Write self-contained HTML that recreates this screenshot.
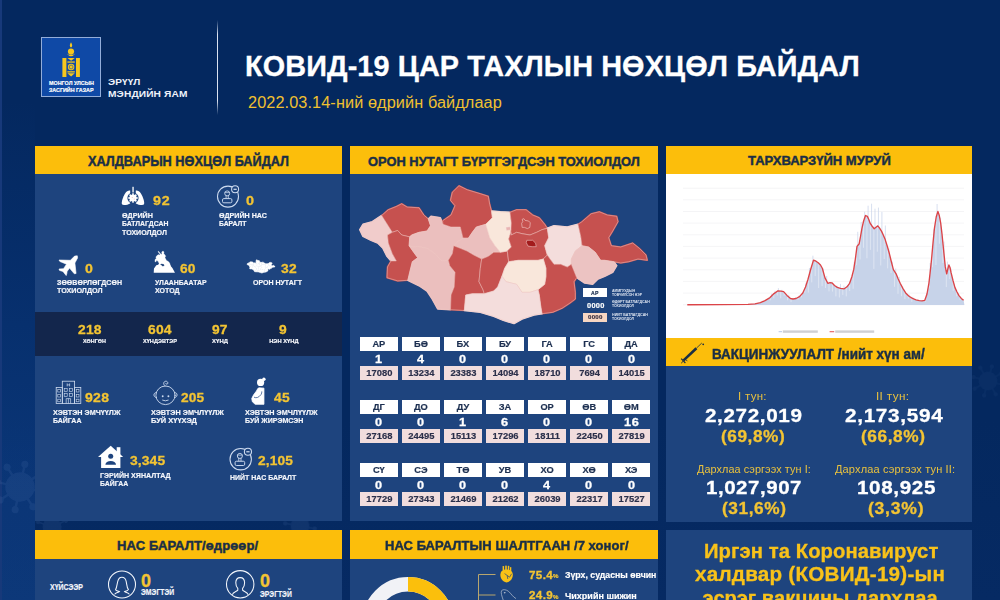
<!DOCTYPE html>
<html><head><meta charset="utf-8"><title>COVID-19</title>
<style>
html,body{margin:0;padding:0;}
body{width:1000px;height:600px;overflow:hidden;position:relative;background:linear-gradient(to bottom,#04285f 0%,#04285f 70%,#062a63 100%);font-family:"Liberation Sans",sans-serif;}
.b{position:absolute;}
.t{position:absolute;white-space:nowrap;line-height:1;font-weight:bold;transform-origin:left top;display:block;}
svg{position:absolute;left:0;top:0;}
</style></head><body>
<div class="b" style="left:0;top:100px;width:35px;height:500px;background:linear-gradient(to bottom,rgba(20,84,180,0) 0%,rgba(20,84,180,.16) 40%,rgba(24,86,176,.27) 70%,rgba(28,88,172,.30) 100%)"></div>
<div class="b" style="left:0;top:0;width:1.6px;height:600px;background:#17397a"></div>
<svg width="1000" height="600" viewBox="0 0 1000 600"><g fill="#8fb0e8" stroke="#8fb0e8" opacity="0.085"><g transform="translate(20 487) scale(1.55) rotate(12)" opacity="1"><circle r="9"/><g stroke-width="1.6" stroke-linecap="round"><line x1="0" y1="-9" x2="0" y2="-14"/><line x1="0" y1="9" x2="0" y2="14"/><line x1="-9" y1="0" x2="-14" y2="0"/><line x1="9" y1="0" x2="14" y2="0"/><line x1="6.4" y1="6.4" x2="10" y2="10"/><line x1="-6.4" y1="6.4" x2="-10" y2="10"/><line x1="6.4" y1="-6.4" x2="10" y2="-10"/><line x1="-6.4" y1="-6.4" x2="-10" y2="-10"/></g><circle cx="0" cy="-15" r="1.8"/><circle cx="0" cy="15" r="1.8"/><circle cx="-15" cy="0" r="1.8"/><circle cx="15" cy="0" r="1.8"/><circle cx="10.8" cy="10.8" r="1.8"/><circle cx="-10.8" cy="10.8" r="1.8"/><circle cx="10.8" cy="-10.8" r="1.8"/><circle cx="-10.8" cy="-10.8" r="1.8"/></g><g transform="translate(52 527) rotate(20)" opacity="1"><circle r="9"/><g stroke-width="1.6" stroke-linecap="round"><line x1="0" y1="-9" x2="0" y2="-14"/><line x1="0" y1="9" x2="0" y2="14"/><line x1="-9" y1="0" x2="-14" y2="0"/><line x1="9" y1="0" x2="14" y2="0"/><line x1="6.4" y1="6.4" x2="10" y2="10"/><line x1="-6.4" y1="6.4" x2="-10" y2="10"/><line x1="6.4" y1="-6.4" x2="10" y2="-10"/><line x1="-6.4" y1="-6.4" x2="-10" y2="-10"/></g><circle cx="0" cy="-15" r="1.8"/><circle cx="0" cy="15" r="1.8"/><circle cx="-15" cy="0" r="1.8"/><circle cx="15" cy="0" r="1.8"/><circle cx="10.8" cy="10.8" r="1.8"/><circle cx="-10.8" cy="10.8" r="1.8"/><circle cx="10.8" cy="-10.8" r="1.8"/><circle cx="-10.8" cy="-10.8" r="1.8"/></g><g transform="translate(988 381) rotate(15)" opacity="0.6"><circle r="9"/><g stroke-width="1.6" stroke-linecap="round"><line x1="0" y1="-9" x2="0" y2="-14"/><line x1="0" y1="9" x2="0" y2="14"/><line x1="-9" y1="0" x2="-14" y2="0"/><line x1="9" y1="0" x2="14" y2="0"/><line x1="6.4" y1="6.4" x2="10" y2="10"/><line x1="-6.4" y1="6.4" x2="-10" y2="10"/><line x1="6.4" y1="-6.4" x2="10" y2="-10"/><line x1="-6.4" y1="-6.4" x2="-10" y2="-10"/></g><circle cx="0" cy="-15" r="1.8"/><circle cx="0" cy="15" r="1.8"/><circle cx="-15" cy="0" r="1.8"/><circle cx="15" cy="0" r="1.8"/><circle cx="10.8" cy="10.8" r="1.8"/><circle cx="-10.8" cy="10.8" r="1.8"/><circle cx="10.8" cy="-10.8" r="1.8"/><circle cx="-10.8" cy="-10.8" r="1.8"/></g><g transform="translate(300 526) rotate(10)" opacity="1"><circle r="9"/><g stroke-width="1.6" stroke-linecap="round"><line x1="0" y1="-9" x2="0" y2="-14"/><line x1="0" y1="9" x2="0" y2="14"/><line x1="-9" y1="0" x2="-14" y2="0"/><line x1="9" y1="0" x2="14" y2="0"/><line x1="6.4" y1="6.4" x2="10" y2="10"/><line x1="-6.4" y1="6.4" x2="-10" y2="10"/><line x1="6.4" y1="-6.4" x2="10" y2="-10"/><line x1="-6.4" y1="-6.4" x2="-10" y2="-10"/></g><circle cx="0" cy="-15" r="1.8"/><circle cx="0" cy="15" r="1.8"/><circle cx="-15" cy="0" r="1.8"/><circle cx="15" cy="0" r="1.8"/><circle cx="10.8" cy="10.8" r="1.8"/><circle cx="-10.8" cy="10.8" r="1.8"/><circle cx="10.8" cy="-10.8" r="1.8"/><circle cx="-10.8" cy="-10.8" r="1.8"/></g></g></svg>
<div class="b" style="left:35.0px;top:146.2px;width:307.0px;height:28.2px;background:#fcbe0b;"></div>
<div class="b" style="left:35.0px;top:174.4px;width:307.0px;height:346.9px;background:#1e447e;"></div>
<div class="b" style="left:35.0px;top:312.0px;width:307.0px;height:44.3px;background:#13264c;"></div>
<div class="b" style="left:350.4px;top:146.2px;width:307.3px;height:28.2px;background:#fcbe0b;"></div>
<div class="b" style="left:350.4px;top:174.4px;width:307.3px;height:347.1px;background:#1e447e;"></div>
<div class="b" style="left:666.0px;top:146.2px;width:306.3px;height:28.2px;background:#fcbe0b;"></div>
<div class="b" style="left:666.0px;top:174.4px;width:306.3px;height:163.6px;background:#ffffff;"></div>
<div class="b" style="left:666.0px;top:338.0px;width:306.3px;height:28.3px;background:#fcbe0b;"></div>
<div class="b" style="left:666.0px;top:366.3px;width:306.3px;height:155.6px;background:#1e447e;"></div>
<div class="b" style="left:35.0px;top:530.0px;width:307.0px;height:28.8px;background:#fcbe0b;"></div>
<div class="b" style="left:35.0px;top:558.8px;width:307.0px;height:41.2px;background:#1e447e;"></div>
<div class="b" style="left:350.4px;top:530.0px;width:307.3px;height:28.8px;background:#fcbe0b;"></div>
<div class="b" style="left:350.4px;top:558.8px;width:307.3px;height:41.2px;background:#1e447e;"></div>
<div class="b" style="left:666.0px;top:529.5px;width:306.3px;height:70.5px;background:#1e447e;"></div>
<div class="b" style="left:217px;top:20px;width:1.4px;height:95px;background:linear-gradient(to bottom,rgba(255,255,255,0),rgba(230,236,248,.95) 15%,rgba(230,236,248,.95) 85%,rgba(255,255,255,0));"></div>
<div class="b" style="left:41.0px;top:37.0px;width:60.4px;height:60.0px;background:#0f49a6;border:1px solid #93add9;box-sizing:border-box;"></div>
<span class="t" style="left:48.5px;top:80.3px;font-size:5.99px;color:#fff;transform:scaleX(0.902);-webkit-text-stroke:0.18px #fff;">МОНГОЛ УЛСЫН</span>
<span class="t" style="left:48.5px;top:87.1px;font-size:5.99px;color:#fff;transform:scaleX(0.896);-webkit-text-stroke:0.18px #fff;">ЗАСГИЙН ГАЗАР</span>
<span class="t" style="left:107.6px;top:76.5px;font-size:9.98px;color:#eef2fa;letter-spacing:0.06px;transform:scaleX(1.009);">ЭРҮҮЛ</span>
<span class="t" style="left:107.6px;top:88.7px;font-size:9.98px;color:#eef2fa;letter-spacing:0.12px;transform:scaleX(1.019);">МЭНДИЙН ЯАМ</span>
<span class="t" style="left:245.4px;top:52.0px;font-size:28.63px;color:#fff;letter-spacing:0.11px;transform:scaleX(1.007);-webkit-text-stroke:0.3px #fff;">КОВИД-19 ЦАР ТАХЛЫН НӨХЦӨЛ БАЙДАЛ</span>
<span class="t" style="left:248.0px;top:94.2px;font-size:16.05px;color:#f0c030;font-weight:normal;letter-spacing:0.10px;transform:scaleX(1.014);">2022.03.14-ний өдрийн байдлаар</span>
<span class="t" style="left:87.5px;top:154.0px;font-size:14.12px;color:#1a2e46;transform:scaleX(0.903);-webkit-text-stroke:0.45px #1a2e46;">ХАЛДВАРЫН НӨХЦӨЛ БАЙДАЛ</span>
<span class="t" style="left:368.0px;top:154.6px;font-size:13.27px;color:#1a2e46;transform:scaleX(0.971);-webkit-text-stroke:0.45px #1a2e46;">ОРОН НУТАГТ БҮРТГЭГДСЭН ТОХИОЛДОЛ</span>
<span class="t" style="left:747.7px;top:154.3px;font-size:13.7px;color:#1a2e46;transform:scaleX(0.951);-webkit-text-stroke:0.45px #1a2e46;">ТАРХВАРЗҮЙН МУРУЙ</span>
<span class="t" style="left:711.7px;top:346.7px;font-size:14.12px;color:#1a2e46;transform:scaleX(0.955);-webkit-text-stroke:0.45px #1a2e46;">ВАКЦИНЖУУЛАЛТ /нийт хүн ам/</span>
<span class="t" style="left:117.4px;top:540.0px;font-size:12.8px;color:#1a2e46;letter-spacing:0.11px;transform:scaleX(1.017);-webkit-text-stroke:0.45px #1a2e46;">НАС БАРАЛТ/өдрөөр/</span>
<span class="t" style="left:384.5px;top:540.2px;font-size:12.9px;color:#1a2e46;letter-spacing:0.06px;transform:scaleX(1.009);-webkit-text-stroke:0.45px #1a2e46;">НАС БАРАЛТЫН ШАЛТГААН /7 хоног/</span>
<span class="t" style="left:153.0px;top:194.4px;font-size:13.58px;color:#f3c433;letter-spacing:0.64px;transform:scaleX(1.054);-webkit-text-stroke:0.3px #f3c433;">92</span>
<span class="t" style="left:121.6px;top:211.7px;font-size:7.49px;color:#f4f6fb;transform:scaleX(0.956);-webkit-text-stroke:0.18px #f4f6fb;">ӨДРИЙН</span>
<span class="t" style="left:121.6px;top:219.9px;font-size:7.49px;color:#f4f6fb;transform:scaleX(0.917);-webkit-text-stroke:0.18px #f4f6fb;">БАТЛАГДСАН</span>
<span class="t" style="left:121.6px;top:228.7px;font-size:7.49px;color:#f4f6fb;transform:scaleX(0.947);-webkit-text-stroke:0.18px #f4f6fb;">ТОХИОЛДОЛ</span>
<span class="t" style="left:246.0px;top:194.4px;font-size:13.58px;color:#f3c433;letter-spacing:0.36px;transform:scaleX(1.062);-webkit-text-stroke:0.3px #f3c433;">0</span>
<span class="t" style="left:219.0px;top:211.7px;font-size:7.49px;color:#f4f6fb;transform:scaleX(0.951);-webkit-text-stroke:0.18px #f4f6fb;">ӨДРИЙН НАС</span>
<span class="t" style="left:219.0px;top:219.9px;font-size:7.49px;color:#f4f6fb;transform:scaleX(0.911);-webkit-text-stroke:0.18px #f4f6fb;">БАРАЛТ</span>
<span class="t" style="left:84.5px;top:262.0px;font-size:13.58px;color:#f3c433;letter-spacing:0.24px;transform:scaleX(1.040);-webkit-text-stroke:0.3px #f3c433;">0</span>
<span class="t" style="left:57.0px;top:279.2px;font-size:7.49px;color:#f4f6fb;transform:scaleX(0.939);-webkit-text-stroke:0.18px #f4f6fb;">ЗӨӨВӨРЛӨГДСӨН</span>
<span class="t" style="left:57.0px;top:287.3px;font-size:7.49px;color:#f4f6fb;transform:scaleX(0.959);-webkit-text-stroke:0.18px #f4f6fb;">ТОХИОЛДОЛ</span>
<span class="t" style="left:180.0px;top:262.0px;font-size:13.58px;color:#f3c433;letter-spacing:0.18px;transform:scaleX(1.014);-webkit-text-stroke:0.3px #f3c433;">60</span>
<span class="t" style="left:155.0px;top:279.2px;font-size:7.49px;color:#f4f6fb;transform:scaleX(0.923);-webkit-text-stroke:0.18px #f4f6fb;">УЛААНБААТАР</span>
<span class="t" style="left:155.0px;top:287.3px;font-size:7.49px;color:#f4f6fb;transform:scaleX(0.943);-webkit-text-stroke:0.18px #f4f6fb;">ХОТОД</span>
<span class="t" style="left:281.0px;top:262.0px;font-size:13.58px;color:#f3c433;letter-spacing:0.22px;transform:scaleX(1.018);-webkit-text-stroke:0.3px #f3c433;">32</span>
<span class="t" style="left:252.5px;top:279.2px;font-size:7.49px;color:#f4f6fb;transform:scaleX(0.934);-webkit-text-stroke:0.18px #f4f6fb;">ОРОН НУТАГТ</span>
<span class="t" style="left:78.0px;top:322.9px;font-size:13.58px;color:#f3c433;letter-spacing:0.19px;transform:scaleX(1.020);-webkit-text-stroke:0.3px #f3c433;">218</span>
<span class="t" style="left:147.8px;top:322.9px;font-size:13.58px;color:#f3c433;letter-spacing:0.19px;transform:scaleX(1.020);-webkit-text-stroke:0.3px #f3c433;">604</span>
<span class="t" style="left:212.2px;top:322.9px;font-size:13.58px;color:#f3c433;letter-spacing:0.18px;transform:scaleX(1.014);-webkit-text-stroke:0.3px #f3c433;">97</span>
<span class="t" style="left:279.4px;top:322.9px;font-size:13.58px;color:#f3c433;letter-spacing:0.11px;transform:scaleX(1.018);-webkit-text-stroke:0.3px #f3c433;">9</span>
<span class="t" style="left:82.5px;top:339.0px;font-size:5.78px;color:#f4f6fb;transform:scaleX(0.940);-webkit-text-stroke:0.18px #f4f6fb;">ХӨНГӨН</span>
<span class="t" style="left:142.5px;top:339.0px;font-size:5.78px;color:#f4f6fb;transform:scaleX(0.973);-webkit-text-stroke:0.18px #f4f6fb;">ХҮНДЭВТЭР</span>
<span class="t" style="left:212.0px;top:339.0px;font-size:5.78px;color:#f4f6fb;letter-spacing:0.09px;transform:scaleX(1.023);-webkit-text-stroke:0.18px #f4f6fb;">ХҮНД</span>
<span class="t" style="left:269.2px;top:339.0px;font-size:5.78px;color:#f4f6fb;-webkit-text-stroke:0.18px #f4f6fb;">НЭН ХҮНД</span>
<span class="t" style="left:84.5px;top:391.4px;font-size:13.58px;color:#f3c433;letter-spacing:0.29px;transform:scaleX(1.033);-webkit-text-stroke:0.3px #f3c433;">928</span>
<span class="t" style="left:53.0px;top:408.7px;font-size:7.49px;color:#f4f6fb;transform:scaleX(0.966);-webkit-text-stroke:0.18px #f4f6fb;">ХЭВТЭН ЭМЧҮҮЛЖ</span>
<span class="t" style="left:53.0px;top:417.1px;font-size:7.49px;color:#f4f6fb;transform:scaleX(0.935);-webkit-text-stroke:0.18px #f4f6fb;">БАЙГАА</span>
<span class="t" style="left:181.0px;top:391.4px;font-size:13.58px;color:#f3c433;letter-spacing:0.08px;transform:scaleX(1.008);-webkit-text-stroke:0.3px #f3c433;">205</span>
<span class="t" style="left:151.0px;top:408.7px;font-size:7.49px;color:#f4f6fb;transform:scaleX(0.972);-webkit-text-stroke:0.18px #f4f6fb;">ХЭВТЭН ЭМЧЛҮҮЛЖ</span>
<span class="t" style="left:151.0px;top:417.1px;font-size:7.49px;color:#f4f6fb;-webkit-text-stroke:0.18px #f4f6fb;">БУЙ ХҮҮХЭД</span>
<span class="t" style="left:274.4px;top:391.4px;font-size:13.58px;color:#f3c433;letter-spacing:0.22px;transform:scaleX(1.018);-webkit-text-stroke:0.3px #f3c433;">45</span>
<span class="t" style="left:245.0px;top:408.7px;font-size:7.49px;color:#f4f6fb;transform:scaleX(0.967);-webkit-text-stroke:0.18px #f4f6fb;">ХЭВТЭН ЭМЧЛҮҮЛЖ</span>
<span class="t" style="left:245.0px;top:417.1px;font-size:7.49px;color:#f4f6fb;transform:scaleX(0.942);-webkit-text-stroke:0.18px #f4f6fb;">БУЙ ЖИРЭМСЭН</span>
<span class="t" style="left:129.5px;top:453.9px;font-size:13.58px;color:#f3c433;letter-spacing:0.12px;transform:scaleX(1.018);-webkit-text-stroke:0.3px #f3c433;">3,345</span>
<span class="t" style="left:100.4px;top:471.9px;font-size:7.49px;color:#f4f6fb;transform:scaleX(0.948);-webkit-text-stroke:0.18px #f4f6fb;">ГЭРИЙН ХЯНАЛТАД</span>
<span class="t" style="left:100.4px;top:480.1px;font-size:7.49px;color:#f4f6fb;transform:scaleX(0.925);-webkit-text-stroke:0.18px #f4f6fb;">БАЙГАА</span>
<span class="t" style="left:257.6px;top:453.9px;font-size:13.58px;color:#f3c433;letter-spacing:0.09px;transform:scaleX(1.013);-webkit-text-stroke:0.3px #f3c433;">2,105</span>
<span class="t" style="left:230.0px;top:474.0px;font-size:7.81px;color:#f4f6fb;transform:scaleX(0.895);-webkit-text-stroke:0.18px #f4f6fb;">НИЙТ НАС БАРАЛТ</span>
<span class="t" style="left:49.6px;top:584.0px;font-size:8.13px;color:#f4f6fb;transform:scaleX(0.856);-webkit-text-stroke:0.18px #f4f6fb;">ХҮЙСЭЭР</span>
<span class="t" style="left:141.4px;top:571.7px;font-size:18.6px;color:#f3c433;transform:scaleX(0.967);-webkit-text-stroke:0.3px #f3c433;">0</span>
<span class="t" style="left:140.9px;top:589.3px;font-size:8.13px;color:#f4f6fb;transform:scaleX(0.840);-webkit-text-stroke:0.18px #f4f6fb;">ЭМЭГТЭЙ</span>
<span class="t" style="left:260.0px;top:571.9px;font-size:18.6px;color:#f3c433;transform:scaleX(0.967);-webkit-text-stroke:0.3px #f3c433;">0</span>
<span class="t" style="left:260.2px;top:590.7px;font-size:8.13px;color:#f4f6fb;transform:scaleX(0.833);-webkit-text-stroke:0.18px #f4f6fb;">ЭРЭГТЭЙ</span>
<div class="b" style="left:360.0px;top:337.2px;width:37.7px;height:13.6px;background:#ffffff;"></div>
<span class="t" style="left:372.4px;top:340.1px;font-size:9.3px;color:#1c2f50;-webkit-text-stroke:0.18px #1c2f50;">АР</span>
<span class="t" style="left:375.1px;top:354.3px;font-size:11.8px;color:#ffffff;letter-spacing:0.37px;transform:scaleX(1.074);-webkit-text-stroke:0.3px #ffffff;">1</span>
<div class="b" style="left:360.0px;top:366.4px;width:37.7px;height:13.6px;background:#f1dddd;"></div>
<span class="t" style="left:366.3px;top:367.8px;font-size:9.4px;color:#2a2f4a;-webkit-text-stroke:0.18px #2a2f4a;">17080</span>
<div class="b" style="left:402.1px;top:337.2px;width:37.7px;height:13.6px;background:#ffffff;"></div>
<span class="t" style="left:414.0px;top:340.1px;font-size:9.3px;color:#1c2f50;-webkit-text-stroke:0.18px #1c2f50;">БӨ</span>
<span class="t" style="left:417.2px;top:354.3px;font-size:11.8px;color:#ffffff;letter-spacing:0.37px;transform:scaleX(1.074);-webkit-text-stroke:0.3px #ffffff;">4</span>
<div class="b" style="left:402.1px;top:366.4px;width:37.7px;height:13.6px;background:#f1dddd;"></div>
<span class="t" style="left:408.3px;top:367.8px;font-size:9.4px;color:#2a2f4a;-webkit-text-stroke:0.18px #2a2f4a;">13234</span>
<div class="b" style="left:444.1px;top:337.2px;width:37.7px;height:13.6px;background:#ffffff;"></div>
<span class="t" style="left:456.6px;top:340.1px;font-size:9.3px;color:#1c2f50;-webkit-text-stroke:0.18px #1c2f50;">БХ</span>
<span class="t" style="left:459.2px;top:354.3px;font-size:11.8px;color:#ffffff;letter-spacing:0.37px;transform:scaleX(1.074);-webkit-text-stroke:0.3px #ffffff;">0</span>
<div class="b" style="left:444.1px;top:366.4px;width:37.7px;height:13.6px;background:#f1dddd;"></div>
<span class="t" style="left:450.4px;top:367.8px;font-size:9.4px;color:#2a2f4a;-webkit-text-stroke:0.18px #2a2f4a;">23383</span>
<div class="b" style="left:486.2px;top:337.2px;width:37.7px;height:13.6px;background:#ffffff;"></div>
<span class="t" style="left:498.9px;top:340.1px;font-size:9.3px;color:#1c2f50;-webkit-text-stroke:0.18px #1c2f50;">БУ</span>
<span class="t" style="left:501.3px;top:354.3px;font-size:11.8px;color:#ffffff;letter-spacing:0.37px;transform:scaleX(1.074);-webkit-text-stroke:0.3px #ffffff;">0</span>
<div class="b" style="left:486.2px;top:366.4px;width:37.7px;height:13.6px;background:#f1dddd;"></div>
<span class="t" style="left:492.5px;top:367.8px;font-size:9.4px;color:#2a2f4a;-webkit-text-stroke:0.18px #2a2f4a;">14094</span>
<div class="b" style="left:528.2px;top:337.2px;width:37.7px;height:13.6px;background:#ffffff;"></div>
<span class="t" style="left:541.4px;top:340.1px;font-size:9.3px;color:#1c2f50;-webkit-text-stroke:0.18px #1c2f50;">ГА</span>
<span class="t" style="left:543.4px;top:354.3px;font-size:11.8px;color:#ffffff;letter-spacing:0.37px;transform:scaleX(1.074);-webkit-text-stroke:0.3px #ffffff;">0</span>
<div class="b" style="left:528.2px;top:366.4px;width:37.7px;height:13.6px;background:#f1dddd;"></div>
<span class="t" style="left:534.5px;top:367.8px;font-size:9.4px;color:#2a2f4a;-webkit-text-stroke:0.18px #2a2f4a;">18710</span>
<div class="b" style="left:570.3px;top:337.2px;width:37.7px;height:13.6px;background:#ffffff;"></div>
<span class="t" style="left:583.2px;top:340.1px;font-size:9.3px;color:#1c2f50;-webkit-text-stroke:0.18px #1c2f50;">ГС</span>
<span class="t" style="left:585.4px;top:354.3px;font-size:11.8px;color:#ffffff;letter-spacing:0.37px;transform:scaleX(1.074);-webkit-text-stroke:0.3px #ffffff;">0</span>
<div class="b" style="left:570.3px;top:366.4px;width:37.7px;height:13.6px;background:#f1dddd;"></div>
<span class="t" style="left:579.2px;top:367.8px;font-size:9.4px;color:#2a2f4a;-webkit-text-stroke:0.18px #2a2f4a;">7694</span>
<div class="b" style="left:612.4px;top:337.2px;width:37.7px;height:13.6px;background:#ffffff;"></div>
<span class="t" style="left:624.5px;top:340.1px;font-size:9.3px;color:#1c2f50;-webkit-text-stroke:0.18px #1c2f50;">ДА</span>
<span class="t" style="left:627.5px;top:354.3px;font-size:11.8px;color:#ffffff;letter-spacing:0.37px;transform:scaleX(1.074);-webkit-text-stroke:0.3px #ffffff;">0</span>
<div class="b" style="left:612.4px;top:366.4px;width:37.7px;height:13.6px;background:#f1dddd;"></div>
<span class="t" style="left:618.6px;top:367.8px;font-size:9.4px;color:#2a2f4a;-webkit-text-stroke:0.18px #2a2f4a;">14015</span>
<div class="b" style="left:360.0px;top:400.0px;width:37.7px;height:13.6px;background:#ffffff;"></div>
<span class="t" style="left:372.9px;top:402.9px;font-size:9.3px;color:#1c2f50;-webkit-text-stroke:0.18px #1c2f50;">ДГ</span>
<span class="t" style="left:375.1px;top:417.1px;font-size:11.8px;color:#ffffff;letter-spacing:0.37px;transform:scaleX(1.074);-webkit-text-stroke:0.3px #ffffff;">0</span>
<div class="b" style="left:360.0px;top:429.2px;width:37.7px;height:13.6px;background:#f1dddd;"></div>
<span class="t" style="left:366.3px;top:430.6px;font-size:9.4px;color:#2a2f4a;-webkit-text-stroke:0.18px #2a2f4a;">27168</span>
<div class="b" style="left:402.1px;top:400.0px;width:37.7px;height:13.6px;background:#ffffff;"></div>
<span class="t" style="left:414.0px;top:402.9px;font-size:9.3px;color:#1c2f50;-webkit-text-stroke:0.18px #1c2f50;">ДО</span>
<span class="t" style="left:417.2px;top:417.1px;font-size:11.8px;color:#ffffff;letter-spacing:0.37px;transform:scaleX(1.074);-webkit-text-stroke:0.3px #ffffff;">0</span>
<div class="b" style="left:402.1px;top:429.2px;width:37.7px;height:13.6px;background:#f1dddd;"></div>
<span class="t" style="left:408.3px;top:430.6px;font-size:9.4px;color:#2a2f4a;-webkit-text-stroke:0.18px #2a2f4a;">24495</span>
<div class="b" style="left:444.1px;top:400.0px;width:37.7px;height:13.6px;background:#ffffff;"></div>
<span class="t" style="left:456.7px;top:402.9px;font-size:9.3px;color:#1c2f50;-webkit-text-stroke:0.18px #1c2f50;">ДУ</span>
<span class="t" style="left:459.2px;top:417.1px;font-size:11.8px;color:#ffffff;letter-spacing:0.37px;transform:scaleX(1.074);-webkit-text-stroke:0.3px #ffffff;">1</span>
<div class="b" style="left:444.1px;top:429.2px;width:37.7px;height:13.6px;background:#f1dddd;"></div>
<span class="t" style="left:450.7px;top:430.6px;font-size:9.4px;color:#2a2f4a;-webkit-text-stroke:0.18px #2a2f4a;">15113</span>
<div class="b" style="left:486.2px;top:400.0px;width:37.7px;height:13.6px;background:#ffffff;"></div>
<span class="t" style="left:498.8px;top:402.9px;font-size:9.3px;color:#1c2f50;-webkit-text-stroke:0.18px #1c2f50;">ЗА</span>
<span class="t" style="left:501.3px;top:417.1px;font-size:11.8px;color:#ffffff;letter-spacing:0.37px;transform:scaleX(1.074);-webkit-text-stroke:0.3px #ffffff;">6</span>
<div class="b" style="left:486.2px;top:429.2px;width:37.7px;height:13.6px;background:#f1dddd;"></div>
<span class="t" style="left:492.5px;top:430.6px;font-size:9.4px;color:#2a2f4a;-webkit-text-stroke:0.18px #2a2f4a;">17296</span>
<div class="b" style="left:528.2px;top:400.0px;width:37.7px;height:13.6px;background:#ffffff;"></div>
<span class="t" style="left:540.4px;top:402.9px;font-size:9.3px;color:#1c2f50;-webkit-text-stroke:0.18px #1c2f50;">ОР</span>
<span class="t" style="left:543.4px;top:417.1px;font-size:11.8px;color:#ffffff;letter-spacing:0.37px;transform:scaleX(1.074);-webkit-text-stroke:0.3px #ffffff;">0</span>
<div class="b" style="left:528.2px;top:429.2px;width:37.7px;height:13.6px;background:#f1dddd;"></div>
<span class="t" style="left:535.0px;top:430.6px;font-size:9.4px;color:#2a2f4a;-webkit-text-stroke:0.18px #2a2f4a;">18111</span>
<div class="b" style="left:570.3px;top:400.0px;width:37.7px;height:13.6px;background:#ffffff;"></div>
<span class="t" style="left:582.2px;top:402.9px;font-size:9.3px;color:#1c2f50;-webkit-text-stroke:0.18px #1c2f50;">ӨВ</span>
<span class="t" style="left:585.4px;top:417.1px;font-size:11.8px;color:#ffffff;letter-spacing:0.37px;transform:scaleX(1.074);-webkit-text-stroke:0.3px #ffffff;">0</span>
<div class="b" style="left:570.3px;top:429.2px;width:37.7px;height:13.6px;background:#f1dddd;"></div>
<span class="t" style="left:576.6px;top:430.6px;font-size:9.4px;color:#2a2f4a;-webkit-text-stroke:0.18px #2a2f4a;">22450</span>
<div class="b" style="left:612.4px;top:400.0px;width:37.7px;height:13.6px;background:#ffffff;"></div>
<span class="t" style="left:623.7px;top:402.9px;font-size:9.3px;color:#1c2f50;-webkit-text-stroke:0.18px #1c2f50;">ӨМ</span>
<span class="t" style="left:623.8px;top:417.1px;font-size:11.8px;color:#ffffff;letter-spacing:0.74px;transform:scaleX(1.074);-webkit-text-stroke:0.3px #ffffff;">16</span>
<div class="b" style="left:612.4px;top:429.2px;width:37.7px;height:13.6px;background:#f1dddd;"></div>
<span class="t" style="left:618.6px;top:430.6px;font-size:9.4px;color:#2a2f4a;-webkit-text-stroke:0.18px #2a2f4a;">27819</span>
<div class="b" style="left:360.0px;top:463.0px;width:37.7px;height:13.6px;background:#ffffff;"></div>
<span class="t" style="left:372.9px;top:465.9px;font-size:9.3px;color:#1c2f50;-webkit-text-stroke:0.18px #1c2f50;">СҮ</span>
<span class="t" style="left:375.1px;top:480.1px;font-size:11.8px;color:#ffffff;letter-spacing:0.37px;transform:scaleX(1.074);-webkit-text-stroke:0.3px #ffffff;">0</span>
<div class="b" style="left:360.0px;top:492.2px;width:37.7px;height:13.6px;background:#f1dddd;"></div>
<span class="t" style="left:366.3px;top:493.6px;font-size:9.4px;color:#2a2f4a;-webkit-text-stroke:0.18px #2a2f4a;">17729</span>
<div class="b" style="left:402.1px;top:463.0px;width:37.7px;height:13.6px;background:#ffffff;"></div>
<span class="t" style="left:414.3px;top:465.9px;font-size:9.3px;color:#1c2f50;-webkit-text-stroke:0.18px #1c2f50;">СЭ</span>
<span class="t" style="left:417.2px;top:480.1px;font-size:11.8px;color:#ffffff;letter-spacing:0.37px;transform:scaleX(1.074);-webkit-text-stroke:0.3px #ffffff;">0</span>
<div class="b" style="left:402.1px;top:492.2px;width:37.7px;height:13.6px;background:#f1dddd;"></div>
<span class="t" style="left:408.3px;top:493.6px;font-size:9.4px;color:#2a2f4a;-webkit-text-stroke:0.18px #2a2f4a;">27343</span>
<div class="b" style="left:444.1px;top:463.0px;width:37.7px;height:13.6px;background:#ffffff;"></div>
<span class="t" style="left:456.5px;top:465.9px;font-size:9.3px;color:#1c2f50;-webkit-text-stroke:0.18px #1c2f50;">ТӨ</span>
<span class="t" style="left:459.2px;top:480.1px;font-size:11.8px;color:#ffffff;letter-spacing:0.37px;transform:scaleX(1.074);-webkit-text-stroke:0.3px #ffffff;">0</span>
<div class="b" style="left:444.1px;top:492.2px;width:37.7px;height:13.6px;background:#f1dddd;"></div>
<span class="t" style="left:450.4px;top:493.6px;font-size:9.4px;color:#2a2f4a;-webkit-text-stroke:0.18px #2a2f4a;">21469</span>
<div class="b" style="left:486.2px;top:463.0px;width:37.7px;height:13.6px;background:#ffffff;"></div>
<span class="t" style="left:498.8px;top:465.9px;font-size:9.3px;color:#1c2f50;-webkit-text-stroke:0.18px #1c2f50;">УВ</span>
<span class="t" style="left:501.3px;top:480.1px;font-size:11.8px;color:#ffffff;letter-spacing:0.37px;transform:scaleX(1.074);-webkit-text-stroke:0.3px #ffffff;">0</span>
<div class="b" style="left:486.2px;top:492.2px;width:37.7px;height:13.6px;background:#f1dddd;"></div>
<span class="t" style="left:492.5px;top:493.6px;font-size:9.4px;color:#2a2f4a;-webkit-text-stroke:0.18px #2a2f4a;">21262</span>
<div class="b" style="left:528.2px;top:463.0px;width:37.7px;height:13.6px;background:#ffffff;"></div>
<span class="t" style="left:540.5px;top:465.9px;font-size:9.3px;color:#1c2f50;-webkit-text-stroke:0.18px #1c2f50;">ХО</span>
<span class="t" style="left:543.4px;top:480.1px;font-size:11.8px;color:#ffffff;letter-spacing:0.37px;transform:scaleX(1.074);-webkit-text-stroke:0.3px #ffffff;">4</span>
<div class="b" style="left:528.2px;top:492.2px;width:37.7px;height:13.6px;background:#f1dddd;"></div>
<span class="t" style="left:534.5px;top:493.6px;font-size:9.4px;color:#2a2f4a;-webkit-text-stroke:0.18px #2a2f4a;">26039</span>
<div class="b" style="left:570.3px;top:463.0px;width:37.7px;height:13.6px;background:#ffffff;"></div>
<span class="t" style="left:582.4px;top:465.9px;font-size:9.3px;color:#1c2f50;-webkit-text-stroke:0.18px #1c2f50;">ХӨ</span>
<span class="t" style="left:585.4px;top:480.1px;font-size:11.8px;color:#ffffff;letter-spacing:0.37px;transform:scaleX(1.074);-webkit-text-stroke:0.3px #ffffff;">0</span>
<div class="b" style="left:570.3px;top:492.2px;width:37.7px;height:13.6px;background:#f1dddd;"></div>
<span class="t" style="left:576.6px;top:493.6px;font-size:9.4px;color:#2a2f4a;-webkit-text-stroke:0.18px #2a2f4a;">22317</span>
<div class="b" style="left:612.4px;top:463.0px;width:37.7px;height:13.6px;background:#ffffff;"></div>
<span class="t" style="left:624.9px;top:465.9px;font-size:9.3px;color:#1c2f50;-webkit-text-stroke:0.18px #1c2f50;">ХЭ</span>
<span class="t" style="left:627.5px;top:480.1px;font-size:11.8px;color:#ffffff;letter-spacing:0.37px;transform:scaleX(1.074);-webkit-text-stroke:0.3px #ffffff;">0</span>
<div class="b" style="left:612.4px;top:492.2px;width:37.7px;height:13.6px;background:#f1dddd;"></div>
<span class="t" style="left:618.6px;top:493.6px;font-size:9.4px;color:#2a2f4a;-webkit-text-stroke:0.18px #2a2f4a;">17527</span>
<div class="b" style="left:582.8px;top:288.1px;width:24.1px;height:8.8px;background:#ffffff;"></div>
<span class="t" style="left:591.1px;top:290.6px;font-size:5.03px;color:#1c2f50;letter-spacing:0.18px;transform:scaleX(1.032);-webkit-text-stroke:0.18px #1c2f50;">АР</span>
<span class="t" style="left:586.9px;top:301.9px;font-size:7.06px;color:#ffffff;letter-spacing:0.23px;transform:scaleX(1.056);-webkit-text-stroke:0.18px #ffffff;">0000</span>
<div class="b" style="left:582.8px;top:312.9px;width:24.1px;height:9.0px;background:#f7d6c2;"></div>
<span class="t" style="left:588.0px;top:314.8px;font-size:5.67px;color:#3a3040;letter-spacing:0.25px;transform:scaleX(1.078);-webkit-text-stroke:0.18px #3a3040;">0000</span>
<span class="t" style="left:611.9px;top:288.6px;font-size:3.96px;color:#dfe6f2;transform:scaleX(0.901);">АЙМГУУДЫН</span>
<span class="t" style="left:611.9px;top:293.1px;font-size:3.96px;color:#dfe6f2;transform:scaleX(0.866);">ТОВЧИЛСОН НЭР</span>
<span class="t" style="left:611.9px;top:299.6px;font-size:3.96px;color:#dfe6f2;transform:scaleX(0.903);">ӨДӨРТ БАТЛАГДСАН</span>
<span class="t" style="left:611.9px;top:303.7px;font-size:3.96px;color:#dfe6f2;transform:scaleX(0.877);">ТОХИОЛДОЛ</span>
<span class="t" style="left:611.9px;top:312.7px;font-size:3.96px;color:#dfe6f2;transform:scaleX(0.927);">НИЙТ БАТЛАГДСАН</span>
<span class="t" style="left:611.9px;top:316.7px;font-size:3.96px;color:#dfe6f2;transform:scaleX(0.877);">ТОХИОЛДОЛ</span>
<span class="t" style="left:738.4px;top:391.4px;font-size:10.7px;color:#eac23e;font-weight:normal;letter-spacing:0.28px;transform:scaleX(1.074);">I тун:</span>
<span class="t" style="left:704.5px;top:406.2px;font-size:19.26px;color:#fff;letter-spacing:0.59px;transform:scaleX(1.073);-webkit-text-stroke:0.3px #fff;">2,272,019</span>
<span class="t" style="left:720.8px;top:428.4px;font-size:16.05px;color:#f3c433;letter-spacing:0.53px;transform:scaleX(1.074);-webkit-text-stroke:0.3px #f3c433;">(69,8%)</span>
<span class="t" style="left:876.3px;top:391.4px;font-size:10.7px;color:#eac23e;font-weight:normal;letter-spacing:0.33px;transform:scaleX(1.094);">II тун:</span>
<span class="t" style="left:844.6px;top:406.2px;font-size:19.26px;color:#fff;letter-spacing:0.63px;transform:scaleX(1.077);-webkit-text-stroke:0.3px #fff;">2,173,594</span>
<span class="t" style="left:860.6px;top:428.4px;font-size:16.05px;color:#f3c433;letter-spacing:0.55px;transform:scaleX(1.077);-webkit-text-stroke:0.3px #f3c433;">(66,8%)</span>
<span class="t" style="left:696.8px;top:463.7px;font-size:10.7px;color:#eac23e;font-weight:normal;letter-spacing:0.07px;transform:scaleX(1.016);">Дархлаа сэргээх тун I:</span>
<span class="t" style="left:706.0px;top:477.5px;font-size:19.26px;color:#fff;letter-spacing:0.52px;transform:scaleX(1.063);-webkit-text-stroke:0.3px #fff;">1,027,907</span>
<span class="t" style="left:722.0px;top:499.6px;font-size:16.05px;color:#f3c433;letter-spacing:0.54px;transform:scaleX(1.076);-webkit-text-stroke:0.3px #f3c433;">(31,6%)</span>
<span class="t" style="left:835.4px;top:463.7px;font-size:10.7px;color:#eac23e;font-weight:normal;letter-spacing:0.13px;transform:scaleX(1.032);">Дархлаа сэргээх тун II:</span>
<span class="t" style="left:857.0px;top:477.5px;font-size:19.26px;color:#fff;letter-spacing:0.62px;transform:scaleX(1.070);-webkit-text-stroke:0.3px #fff;">108,925</span>
<span class="t" style="left:867.7px;top:499.6px;font-size:16.05px;color:#f3c433;letter-spacing:0.68px;transform:scaleX(1.096);-webkit-text-stroke:0.3px #f3c433;">(3,3%)</span>
<span class="t" style="left:703.5px;top:540.8px;font-size:20.12px;color:#f8c21a;letter-spacing:0.06px;transform:scaleX(1.007);-webkit-text-stroke:0.3px #f8c21a;">Иргэн та Коронавируст</span>
<span class="t" style="left:695.0px;top:564.3px;font-size:20.12px;color:#f8c21a;letter-spacing:0.24px;transform:scaleX(1.026);-webkit-text-stroke:0.3px #f8c21a;">халдвар (КОВИД-19)-ын</span>
<span class="t" style="left:702.5px;top:587.8px;font-size:20.12px;color:#f8c21a;letter-spacing:0.04px;-webkit-text-stroke:0.3px #f8c21a;">эсрэг вакцины дархлаа</span>
<span class="t" style="left:528.8px;top:569.6px;font-size:10.9px;color:#f3c433;letter-spacing:0.36px;transform:scaleX(1.067);-webkit-text-stroke:0.3px #f3c433;">75.4</span>
<span class="t" style="left:553.0px;top:574.3px;font-size:5.35px;color:#f3c433;letter-spacing:0.49px;transform:scaleX(1.144);-webkit-text-stroke:0.18px #f3c433;">%</span>
<span class="t" style="left:564.8px;top:571.4px;font-size:9.2px;color:#fff;transform:scaleX(0.952);-webkit-text-stroke:0.18px #fff;">Зүрх, судасны өвчин</span>
<span class="t" style="left:528.8px;top:589.8px;font-size:10.9px;color:#f3c433;letter-spacing:0.36px;transform:scaleX(1.067);-webkit-text-stroke:0.3px #f3c433;">24.9</span>
<span class="t" style="left:553.0px;top:594.5px;font-size:5.35px;color:#f3c433;letter-spacing:0.49px;transform:scaleX(1.144);-webkit-text-stroke:0.18px #f3c433;">%</span>
<span class="t" style="left:564.8px;top:591.8px;font-size:9.2px;color:#fff;transform:scaleX(0.980);-webkit-text-stroke:0.18px #fff;">Чихрийн шижин</span>
<svg width="1000" height="600" viewBox="0 0 1000 600">
<polygon points="359.8,229.7 363.0,224.3 372.3,221.7 381.7,215.5 392.3,232.3 387.5,235.0 388.3,243.0 392.3,253.7 396.3,260.9 391.0,260.9 387.0,256.3 383.0,248.3 377.7,243.0 371.0,240.3 363.0,236.3" fill="#f1cccb" stroke="#f1cccb" stroke-width="1.6" stroke-linejoin="round" />
<polygon points="381.7,215.5 388.3,209.7 396.3,206.5 401.7,203.8 407.0,207.0 419.0,207.8 423.8,215.0 428.3,219.0 430.5,225.7 427.0,231.0 419.0,232.3 411.5,235.0 409.7,236.9 401.7,235.0 397.7,230.5 392.3,232.3" fill="#c6514f" stroke="#c6514f" stroke-width="1.6" stroke-linejoin="round" />
<polygon points="387.5,235.0 392.3,232.3 397.7,230.5 401.7,235.0 409.7,236.9 409.1,245.7 413.7,252.3 417.7,257.7 412.3,261.7 409.7,272.3 407.8,280.3 397.7,280.9 387.0,277.7 387.5,267.0 391.0,260.9 396.3,260.9 392.3,253.7 388.3,243.0" fill="#c6514f" stroke="#c6514f" stroke-width="1.6" stroke-linejoin="round" />
<polygon points="428.3,219.0 431.0,216.3 440.3,217.7 443.0,224.3 451.0,227.0 460.3,227.0 463.0,238.2 457.7,241.7 453.7,245.7 452.3,253.7 448.3,260.3 441.7,260.9 435.0,253.7 427.0,248.3 417.7,246.5 412.3,247.0 409.1,245.7 409.7,236.9 411.5,235.0 419.0,232.3 427.0,231.0 430.5,225.7" fill="#ebbfbe" stroke="#ebbfbe" stroke-width="1.6" stroke-linejoin="round" />
<polygon points="409.1,245.7 412.3,247.0 417.7,246.5 427.0,248.3 435.0,253.7 441.7,260.9 448.3,260.3 449.7,265.7 455.0,272.3 454.2,287.0 451.0,295.0 450.5,309.7 437.7,308.9 432.3,299.0 427.0,291.0 419.0,285.7 407.8,280.3 409.7,272.3 412.3,261.7 417.7,257.7 413.7,252.3" fill="#ebbfbe" stroke="#ebbfbe" stroke-width="1.6" stroke-linejoin="round" />
<polygon points="459.0,185.7 467.0,189.7 480.3,193.7 488.3,196.3 489.7,204.3 491.5,211.0 492.3,217.7 485.7,224.3 476.3,227.0 472.3,232.3 468.3,238.2 463.0,238.2 460.3,227.0 451.0,227.0 443.0,224.3 442.5,220.9 451.0,215.0 455.0,205.7 450.5,200.3 452.3,192.3" fill="#c6514f" stroke="#c6514f" stroke-width="1.6" stroke-linejoin="round" />
<polygon points="476.3,227.0 485.7,224.3 489.7,237.7 495.0,245.7 500.3,252.3 493.7,252.3 488.3,256.3 481.7,259.0 473.7,255.0 467.0,251.0 460.3,248.3 453.7,245.7 457.7,241.7 463.0,238.2 468.3,238.2 472.3,232.3" fill="#ebbfbe" stroke="#ebbfbe" stroke-width="1.6" stroke-linejoin="round" />
<polygon points="453.7,245.7 460.3,248.3 467.0,251.0 473.7,255.0 481.7,259.0 480.3,268.3 479.0,281.7 483.0,289.7 484.3,293.7 472.3,293.7 465.7,295.0 464.3,310.5 450.5,309.7 451.0,295.0 454.2,287.0 455.0,272.3 449.7,265.7 448.3,260.3 452.3,253.7" fill="#c6514f" stroke="#c6514f" stroke-width="1.6" stroke-linejoin="round" />
<polygon points="481.7,259.0 488.3,256.3 493.7,252.3 500.3,252.3 507.3,251.0 508.6,261.7 504.6,268.3 501.9,276.3 497.7,287.0 493.7,291.0 484.3,293.7 483.0,289.7 479.0,281.7 480.3,268.3" fill="#c6514f" stroke="#c6514f" stroke-width="1.6" stroke-linejoin="round" />
<polygon points="485.7,224.3 492.3,217.7 491.5,211.0 500.3,211.8 509.9,212.3 511.3,223.0 510.7,232.3 508.6,239.0 511.3,247.0 507.3,251.0 500.3,252.3 495.0,245.7 489.7,237.7" fill="#f9e7db" stroke="#f9e7db" stroke-width="1.6" stroke-linejoin="round" />
<polygon points="510.0,212.3 516.7,209.7 526.0,209.7 532.7,215.0 539.3,217.7 544.7,224.3 547.3,228.3 542.0,229.7 536.7,232.3 530.0,235.0 522.0,233.7 516.7,232.3 511.3,235.0 510.8,232.3 511.3,223.0" fill="#c6514f" stroke="#c6514f" stroke-width="1.6" stroke-linejoin="round" />
<polygon points="511.3,235.0 516.7,232.3 522.0,233.7 530.0,235.0 536.7,232.3 542.0,229.7 547.3,228.3 548.7,237.7 544.7,245.7 547.3,255.0 543.3,259.0 538.0,260.3 530.0,260.3 518.0,260.3 508.7,261.7 507.3,251.0 511.3,247.0 508.7,239.0 510.8,232.3" fill="#c6514f" stroke="#c6514f" stroke-width="1.6" stroke-linejoin="round" />
<polygon points="547.3,228.3 554.0,225.7 567.3,227.0 578.0,224.3 580.7,236.3 582.0,245.7 575.3,251.0 571.3,259.0 571.3,264.3 567.3,267.0 560.7,264.3 554.0,264.3 550.0,259.0 547.3,255.0 544.7,245.7 548.7,237.7" fill="#f4dddc" stroke="#f4dddc" stroke-width="1.6" stroke-linejoin="round" />
<polygon points="578.0,224.3 582.0,221.7 591.3,213.7 599.3,211.8 607.3,215.0 616.7,216.3 618.0,221.7 612.7,231.0 608.7,237.7 611.3,245.7 620.7,247.0 632.7,243.0 639.3,248.3 646.0,255.0 647.3,260.3 638.0,259.0 628.7,261.7 620.7,263.0 614.0,261.7 604.7,260.3 600.7,260.3 595.3,252.3 588.7,247.0 582.0,245.7 580.7,236.3" fill="#c6514f" stroke="#c6514f" stroke-width="1.6" stroke-linejoin="round" />
<polygon points="582.0,245.7 588.7,247.0 595.3,252.3 600.7,260.3 604.7,260.3 614.0,261.7 616.7,265.7 612.7,272.3 604.7,276.3 598.0,279.0 592.7,284.3 584.7,283.0 576.7,277.7 574.0,271.0 571.3,264.3 571.3,259.0 575.3,251.0" fill="#ecc3c2" stroke="#ecc3c2" stroke-width="1.6" stroke-linejoin="round" />
<polygon points="547.3,255.0 550.0,259.0 554.0,264.3 560.7,264.3 567.3,267.0 571.3,264.3 574.0,271.0 576.7,277.7 574.0,281.7 575.3,292.3 575.3,299.0 570.0,303.0 562.0,308.3 552.7,312.3 542.0,313.7 540.7,305.7 539.3,295.0 538.0,289.7 544.7,284.3 546.0,276.3 546.0,268.3 543.3,259.0" fill="#c6514f" stroke="#c6514f" stroke-width="1.6" stroke-linejoin="round" />
<polygon points="508.7,261.7 518.0,260.3 530.0,260.3 538.0,260.3 543.3,259.0 546.0,268.3 546.0,276.3 544.7,284.3 538.0,289.7 530.0,292.3 522.0,292.3 516.7,284.3 506.0,281.7 502.0,276.3 504.7,268.3" fill="#f9e7db" stroke="#f9e7db" stroke-width="1.6" stroke-linejoin="round" />
<polygon points="502.0,276.3 506.0,281.7 516.7,284.3 522.0,292.3 530.0,292.3 538.0,289.7 539.3,295.0 540.7,305.7 542.0,313.7 534.0,315.0 522.0,319.0 514.0,323.5 503.3,320.3 493.7,316.3 480.3,312.3 464.3,310.5 465.7,295.0 472.3,293.7 484.3,293.7 493.7,291.0 497.7,287.0 501.9,276.3" fill="#f4dddc" stroke="#f4dddc" stroke-width="1.6" stroke-linejoin="round" />
<polygon points="359.8,229.7 363.0,224.3 372.3,221.7 381.7,215.5 392.3,232.3 387.5,235.0 388.3,243.0 392.3,253.7 396.3,260.9 391.0,260.9 387.0,256.3 383.0,248.3 377.7,243.0 371.0,240.3 363.0,236.3" fill="#f1cccb" stroke="#efc6c3" stroke-width="0.5" stroke-linejoin="round" />
<polygon points="381.7,215.5 388.3,209.7 396.3,206.5 401.7,203.8 407.0,207.0 419.0,207.8 423.8,215.0 428.3,219.0 430.5,225.7 427.0,231.0 419.0,232.3 411.5,235.0 409.7,236.9 401.7,235.0 397.7,230.5 392.3,232.3" fill="#c6514f" stroke="#efc6c3" stroke-width="0.5" stroke-linejoin="round" />
<polygon points="387.5,235.0 392.3,232.3 397.7,230.5 401.7,235.0 409.7,236.9 409.1,245.7 413.7,252.3 417.7,257.7 412.3,261.7 409.7,272.3 407.8,280.3 397.7,280.9 387.0,277.7 387.5,267.0 391.0,260.9 396.3,260.9 392.3,253.7 388.3,243.0" fill="#c6514f" stroke="#efc6c3" stroke-width="0.5" stroke-linejoin="round" />
<polygon points="428.3,219.0 431.0,216.3 440.3,217.7 443.0,224.3 451.0,227.0 460.3,227.0 463.0,238.2 457.7,241.7 453.7,245.7 452.3,253.7 448.3,260.3 441.7,260.9 435.0,253.7 427.0,248.3 417.7,246.5 412.3,247.0 409.1,245.7 409.7,236.9 411.5,235.0 419.0,232.3 427.0,231.0 430.5,225.7" fill="#ebbfbe" stroke="#efc6c3" stroke-width="0.5" stroke-linejoin="round" />
<polygon points="409.1,245.7 412.3,247.0 417.7,246.5 427.0,248.3 435.0,253.7 441.7,260.9 448.3,260.3 449.7,265.7 455.0,272.3 454.2,287.0 451.0,295.0 450.5,309.7 437.7,308.9 432.3,299.0 427.0,291.0 419.0,285.7 407.8,280.3 409.7,272.3 412.3,261.7 417.7,257.7 413.7,252.3" fill="#ebbfbe" stroke="#efc6c3" stroke-width="0.5" stroke-linejoin="round" />
<polygon points="459.0,185.7 467.0,189.7 480.3,193.7 488.3,196.3 489.7,204.3 491.5,211.0 492.3,217.7 485.7,224.3 476.3,227.0 472.3,232.3 468.3,238.2 463.0,238.2 460.3,227.0 451.0,227.0 443.0,224.3 442.5,220.9 451.0,215.0 455.0,205.7 450.5,200.3 452.3,192.3" fill="#c6514f" stroke="#efc6c3" stroke-width="0.5" stroke-linejoin="round" />
<polygon points="476.3,227.0 485.7,224.3 489.7,237.7 495.0,245.7 500.3,252.3 493.7,252.3 488.3,256.3 481.7,259.0 473.7,255.0 467.0,251.0 460.3,248.3 453.7,245.7 457.7,241.7 463.0,238.2 468.3,238.2 472.3,232.3" fill="#ebbfbe" stroke="#efc6c3" stroke-width="0.5" stroke-linejoin="round" />
<polygon points="453.7,245.7 460.3,248.3 467.0,251.0 473.7,255.0 481.7,259.0 480.3,268.3 479.0,281.7 483.0,289.7 484.3,293.7 472.3,293.7 465.7,295.0 464.3,310.5 450.5,309.7 451.0,295.0 454.2,287.0 455.0,272.3 449.7,265.7 448.3,260.3 452.3,253.7" fill="#c6514f" stroke="#efc6c3" stroke-width="0.5" stroke-linejoin="round" />
<polygon points="481.7,259.0 488.3,256.3 493.7,252.3 500.3,252.3 507.3,251.0 508.6,261.7 504.6,268.3 501.9,276.3 497.7,287.0 493.7,291.0 484.3,293.7 483.0,289.7 479.0,281.7 480.3,268.3" fill="#c6514f" stroke="#efc6c3" stroke-width="0.5" stroke-linejoin="round" />
<polygon points="485.7,224.3 492.3,217.7 491.5,211.0 500.3,211.8 509.9,212.3 511.3,223.0 510.7,232.3 508.6,239.0 511.3,247.0 507.3,251.0 500.3,252.3 495.0,245.7 489.7,237.7" fill="#f9e7db" stroke="#efc6c3" stroke-width="0.5" stroke-linejoin="round" />
<polygon points="510.0,212.3 516.7,209.7 526.0,209.7 532.7,215.0 539.3,217.7 544.7,224.3 547.3,228.3 542.0,229.7 536.7,232.3 530.0,235.0 522.0,233.7 516.7,232.3 511.3,235.0 510.8,232.3 511.3,223.0" fill="#c6514f" stroke="#efc6c3" stroke-width="0.5" stroke-linejoin="round" />
<polygon points="511.3,235.0 516.7,232.3 522.0,233.7 530.0,235.0 536.7,232.3 542.0,229.7 547.3,228.3 548.7,237.7 544.7,245.7 547.3,255.0 543.3,259.0 538.0,260.3 530.0,260.3 518.0,260.3 508.7,261.7 507.3,251.0 511.3,247.0 508.7,239.0 510.8,232.3" fill="#c6514f" stroke="#efc6c3" stroke-width="0.5" stroke-linejoin="round" />
<polygon points="547.3,228.3 554.0,225.7 567.3,227.0 578.0,224.3 580.7,236.3 582.0,245.7 575.3,251.0 571.3,259.0 571.3,264.3 567.3,267.0 560.7,264.3 554.0,264.3 550.0,259.0 547.3,255.0 544.7,245.7 548.7,237.7" fill="#f4dddc" stroke="#efc6c3" stroke-width="0.5" stroke-linejoin="round" />
<polygon points="578.0,224.3 582.0,221.7 591.3,213.7 599.3,211.8 607.3,215.0 616.7,216.3 618.0,221.7 612.7,231.0 608.7,237.7 611.3,245.7 620.7,247.0 632.7,243.0 639.3,248.3 646.0,255.0 647.3,260.3 638.0,259.0 628.7,261.7 620.7,263.0 614.0,261.7 604.7,260.3 600.7,260.3 595.3,252.3 588.7,247.0 582.0,245.7 580.7,236.3" fill="#c6514f" stroke="#efc6c3" stroke-width="0.5" stroke-linejoin="round" />
<polygon points="582.0,245.7 588.7,247.0 595.3,252.3 600.7,260.3 604.7,260.3 614.0,261.7 616.7,265.7 612.7,272.3 604.7,276.3 598.0,279.0 592.7,284.3 584.7,283.0 576.7,277.7 574.0,271.0 571.3,264.3 571.3,259.0 575.3,251.0" fill="#ecc3c2" stroke="#efc6c3" stroke-width="0.5" stroke-linejoin="round" />
<polygon points="547.3,255.0 550.0,259.0 554.0,264.3 560.7,264.3 567.3,267.0 571.3,264.3 574.0,271.0 576.7,277.7 574.0,281.7 575.3,292.3 575.3,299.0 570.0,303.0 562.0,308.3 552.7,312.3 542.0,313.7 540.7,305.7 539.3,295.0 538.0,289.7 544.7,284.3 546.0,276.3 546.0,268.3 543.3,259.0" fill="#c6514f" stroke="#efc6c3" stroke-width="0.5" stroke-linejoin="round" />
<polygon points="508.7,261.7 518.0,260.3 530.0,260.3 538.0,260.3 543.3,259.0 546.0,268.3 546.0,276.3 544.7,284.3 538.0,289.7 530.0,292.3 522.0,292.3 516.7,284.3 506.0,281.7 502.0,276.3 504.7,268.3" fill="#f9e7db" stroke="#efc6c3" stroke-width="0.5" stroke-linejoin="round" />
<polygon points="502.0,276.3 506.0,281.7 516.7,284.3 522.0,292.3 530.0,292.3 538.0,289.7 539.3,295.0 540.7,305.7 542.0,313.7 534.0,315.0 522.0,319.0 514.0,323.5 503.3,320.3 493.7,316.3 480.3,312.3 464.3,310.5 465.7,295.0 472.3,293.7 484.3,293.7 493.7,291.0 497.7,287.0 501.9,276.3" fill="#f4dddc" stroke="#efc6c3" stroke-width="0.5" stroke-linejoin="round" />
<polygon points="522.2,219.3 523.9,218.7 525.1,220.4 528.6,221.0 530.3,222.8 529.8,227.4 527.4,228.6 524.5,227.4 522.2,227.4 521.6,223.3 522.8,221.6" fill="#c6514f" stroke="#f3cfcc" stroke-width="0.6" stroke-linejoin="round" />
<polygon points="505.9,227.3 510.2,226.7 510.7,229.9 506.5,230.5" fill="#e9b4b2" stroke="#f6e4e2" stroke-width="0.4" stroke-linejoin="round" />
<polygon points="526.8,240.3 532.7,240.3 535.6,243.2 536.2,246.7 532.1,246.7 528.0,246.1 526.3,242.6" fill="#a31b1c" stroke="#efc4c2" stroke-width="0.6" stroke-linejoin="round" /><g transform="translate(211.96,241.9) scale(0.0974,0.0965)"><polygon points="359.8,229.7 363.0,224.3 372.3,221.7 381.7,215.5 392.3,232.3 387.5,235.0 388.3,243.0 392.3,253.7 396.3,260.9 391.0,260.9 387.0,256.3 383.0,248.3 377.7,243.0 371.0,240.3 363.0,236.3" fill="#fff" stroke="#fff" stroke-width="6" stroke-linejoin="round"/><polygon points="381.7,215.5 388.3,209.7 396.3,206.5 401.7,203.8 407.0,207.0 419.0,207.8 423.8,215.0 428.3,219.0 430.5,225.7 427.0,231.0 419.0,232.3 411.5,235.0 409.7,236.9 401.7,235.0 397.7,230.5 392.3,232.3" fill="#fff" stroke="#fff" stroke-width="6" stroke-linejoin="round"/><polygon points="387.5,235.0 392.3,232.3 397.7,230.5 401.7,235.0 409.7,236.9 409.1,245.7 413.7,252.3 417.7,257.7 412.3,261.7 409.7,272.3 407.8,280.3 397.7,280.9 387.0,277.7 387.5,267.0 391.0,260.9 396.3,260.9 392.3,253.7 388.3,243.0" fill="#fff" stroke="#fff" stroke-width="6" stroke-linejoin="round"/><polygon points="428.3,219.0 431.0,216.3 440.3,217.7 443.0,224.3 451.0,227.0 460.3,227.0 463.0,238.2 457.7,241.7 453.7,245.7 452.3,253.7 448.3,260.3 441.7,260.9 435.0,253.7 427.0,248.3 417.7,246.5 412.3,247.0 409.1,245.7 409.7,236.9 411.5,235.0 419.0,232.3 427.0,231.0 430.5,225.7" fill="#fff" stroke="#fff" stroke-width="6" stroke-linejoin="round"/><polygon points="409.1,245.7 412.3,247.0 417.7,246.5 427.0,248.3 435.0,253.7 441.7,260.9 448.3,260.3 449.7,265.7 455.0,272.3 454.2,287.0 451.0,295.0 450.5,309.7 437.7,308.9 432.3,299.0 427.0,291.0 419.0,285.7 407.8,280.3 409.7,272.3 412.3,261.7 417.7,257.7 413.7,252.3" fill="#fff" stroke="#fff" stroke-width="6" stroke-linejoin="round"/><polygon points="459.0,185.7 467.0,189.7 480.3,193.7 488.3,196.3 489.7,204.3 491.5,211.0 492.3,217.7 485.7,224.3 476.3,227.0 472.3,232.3 468.3,238.2 463.0,238.2 460.3,227.0 451.0,227.0 443.0,224.3 442.5,220.9 451.0,215.0 455.0,205.7 450.5,200.3 452.3,192.3" fill="#fff" stroke="#fff" stroke-width="6" stroke-linejoin="round"/><polygon points="476.3,227.0 485.7,224.3 489.7,237.7 495.0,245.7 500.3,252.3 493.7,252.3 488.3,256.3 481.7,259.0 473.7,255.0 467.0,251.0 460.3,248.3 453.7,245.7 457.7,241.7 463.0,238.2 468.3,238.2 472.3,232.3" fill="#fff" stroke="#fff" stroke-width="6" stroke-linejoin="round"/><polygon points="453.7,245.7 460.3,248.3 467.0,251.0 473.7,255.0 481.7,259.0 480.3,268.3 479.0,281.7 483.0,289.7 484.3,293.7 472.3,293.7 465.7,295.0 464.3,310.5 450.5,309.7 451.0,295.0 454.2,287.0 455.0,272.3 449.7,265.7 448.3,260.3 452.3,253.7" fill="#fff" stroke="#fff" stroke-width="6" stroke-linejoin="round"/><polygon points="481.7,259.0 488.3,256.3 493.7,252.3 500.3,252.3 507.3,251.0 508.6,261.7 504.6,268.3 501.9,276.3 497.7,287.0 493.7,291.0 484.3,293.7 483.0,289.7 479.0,281.7 480.3,268.3" fill="#fff" stroke="#fff" stroke-width="6" stroke-linejoin="round"/><polygon points="485.7,224.3 492.3,217.7 491.5,211.0 500.3,211.8 509.9,212.3 511.3,223.0 510.7,232.3 508.6,239.0 511.3,247.0 507.3,251.0 500.3,252.3 495.0,245.7 489.7,237.7" fill="#fff" stroke="#fff" stroke-width="6" stroke-linejoin="round"/><polygon points="510.0,212.3 516.7,209.7 526.0,209.7 532.7,215.0 539.3,217.7 544.7,224.3 547.3,228.3 542.0,229.7 536.7,232.3 530.0,235.0 522.0,233.7 516.7,232.3 511.3,235.0 510.8,232.3 511.3,223.0" fill="#fff" stroke="#fff" stroke-width="6" stroke-linejoin="round"/><polygon points="511.3,235.0 516.7,232.3 522.0,233.7 530.0,235.0 536.7,232.3 542.0,229.7 547.3,228.3 548.7,237.7 544.7,245.7 547.3,255.0 543.3,259.0 538.0,260.3 530.0,260.3 518.0,260.3 508.7,261.7 507.3,251.0 511.3,247.0 508.7,239.0 510.8,232.3" fill="#fff" stroke="#fff" stroke-width="6" stroke-linejoin="round"/><polygon points="547.3,228.3 554.0,225.7 567.3,227.0 578.0,224.3 580.7,236.3 582.0,245.7 575.3,251.0 571.3,259.0 571.3,264.3 567.3,267.0 560.7,264.3 554.0,264.3 550.0,259.0 547.3,255.0 544.7,245.7 548.7,237.7" fill="#fff" stroke="#fff" stroke-width="6" stroke-linejoin="round"/><polygon points="578.0,224.3 582.0,221.7 591.3,213.7 599.3,211.8 607.3,215.0 616.7,216.3 618.0,221.7 612.7,231.0 608.7,237.7 611.3,245.7 620.7,247.0 632.7,243.0 639.3,248.3 646.0,255.0 647.3,260.3 638.0,259.0 628.7,261.7 620.7,263.0 614.0,261.7 604.7,260.3 600.7,260.3 595.3,252.3 588.7,247.0 582.0,245.7 580.7,236.3" fill="#fff" stroke="#fff" stroke-width="6" stroke-linejoin="round"/><polygon points="582.0,245.7 588.7,247.0 595.3,252.3 600.7,260.3 604.7,260.3 614.0,261.7 616.7,265.7 612.7,272.3 604.7,276.3 598.0,279.0 592.7,284.3 584.7,283.0 576.7,277.7 574.0,271.0 571.3,264.3 571.3,259.0 575.3,251.0" fill="#fff" stroke="#fff" stroke-width="6" stroke-linejoin="round"/><polygon points="547.3,255.0 550.0,259.0 554.0,264.3 560.7,264.3 567.3,267.0 571.3,264.3 574.0,271.0 576.7,277.7 574.0,281.7 575.3,292.3 575.3,299.0 570.0,303.0 562.0,308.3 552.7,312.3 542.0,313.7 540.7,305.7 539.3,295.0 538.0,289.7 544.7,284.3 546.0,276.3 546.0,268.3 543.3,259.0" fill="#fff" stroke="#fff" stroke-width="6" stroke-linejoin="round"/><polygon points="508.7,261.7 518.0,260.3 530.0,260.3 538.0,260.3 543.3,259.0 546.0,268.3 546.0,276.3 544.7,284.3 538.0,289.7 530.0,292.3 522.0,292.3 516.7,284.3 506.0,281.7 502.0,276.3 504.7,268.3" fill="#fff" stroke="#fff" stroke-width="6" stroke-linejoin="round"/><polygon points="502.0,276.3 506.0,281.7 516.7,284.3 522.0,292.3 530.0,292.3 538.0,289.7 539.3,295.0 540.7,305.7 542.0,313.7 534.0,315.0 522.0,319.0 514.0,323.5 503.3,320.3 493.7,316.3 480.3,312.3 464.3,310.5 465.7,295.0 472.3,293.7 484.3,293.7 493.7,291.0 497.7,287.0 501.9,276.3" fill="#fff" stroke="#fff" stroke-width="6" stroke-linejoin="round"/></g>
<line x1="683" x2="964" y1="188.2" y2="188.2" stroke="#ececf0" stroke-width="0.6"/>
<line x1="683" x2="964" y1="199.8" y2="199.8" stroke="#ececf0" stroke-width="0.6"/>
<line x1="683" x2="964" y1="211.5" y2="211.5" stroke="#ececf0" stroke-width="0.6"/>
<line x1="683" x2="964" y1="223.1" y2="223.1" stroke="#ececf0" stroke-width="0.6"/>
<line x1="683" x2="964" y1="234.8" y2="234.8" stroke="#ececf0" stroke-width="0.6"/>
<line x1="683" x2="964" y1="246.4" y2="246.4" stroke="#ececf0" stroke-width="0.6"/>
<line x1="683" x2="964" y1="258.1" y2="258.1" stroke="#ececf0" stroke-width="0.6"/>
<line x1="683" x2="964" y1="269.8" y2="269.8" stroke="#ececf0" stroke-width="0.6"/>
<line x1="683" x2="964" y1="281.4" y2="281.4" stroke="#ececf0" stroke-width="0.6"/>
<line x1="683" x2="964" y1="293.1" y2="293.1" stroke="#ececf0" stroke-width="0.6"/>
<line x1="683" x2="964" y1="304.7" y2="304.7" stroke="#ececf0" stroke-width="0.6"/>
<path d="M687.3,304.9 L687.3,304.7 L720.0,304.6 L748.0,304.4 L755.0,303.8 L760.4,302.6 L765.0,300.6 L770.0,297.6 L774.0,293.6 L778.0,290.8 L781.0,291.2 L783.6,291.6 L787.0,295.4 L790.5,298.5 L793.0,299.0 L796.0,298.5 L799.5,296.6 L802.8,293.0 L805.5,287.0 L808.0,279.3 L810.8,269.0 L813.5,260.1 L816.0,261.2 L818.2,262.8 L820.5,265.0 L822.3,268.3 L825.0,277.9 L827.8,283.3 L830.0,282.6 L831.9,282.8 L834.5,285.5 L837.3,287.4 L840.5,288.4 L844.2,288.8 L847.0,286.8 L849.6,283.3 L851.8,277.0 L853.7,269.7 L855.5,258.0 L857.0,246.4 L859.2,243.7 L860.6,236.0 L861.9,228.7 L863.6,221.0 L865.5,215.5 L867.4,216.4 L868.8,219.5 L870.1,223.2 L872.0,226.0 L874.2,228.7 L876.0,227.2 L877.8,225.9 L879.6,228.2 L881.6,231.4 L883.5,235.5 L885.2,239.6 L887.2,246.0 L889.3,253.3 L891.4,262.0 L893.4,269.7 L896.1,273.8 L898.0,278.5 L900.2,283.3 L903.0,288.6 L905.7,292.9 L909.0,296.2 L912.5,298.4 L916.0,299.8 L919.3,300.6 L922.0,300.8 L924.8,300.3 L927.0,294.0 L928.9,283.3 L930.3,271.0 L931.6,258.7 L933.0,243.0 L934.4,228.7 L936.2,217.0 L937.9,211.4 L939.3,215.5 L940.7,223.2 L942.0,234.0 L943.1,245.1 L944.2,256.0 L945.3,266.9 L946.7,273.8 L947.8,269.0 L948.9,265.0 L950.0,267.5 L951.0,272.4 L953.0,280.5 L954.9,287.4 L957.0,292.0 L959.0,295.6 L961.3,298.4 L963.6,300.3 L964.4,304.9 Z" fill="#c7d3e9"/>
<path d="M771.50,297.1 V293.8 M774.95,293.9 V290.8 M778.40,291.9 V288.2 M781.85,292.3 V289.8 M788.75,297.9 V294.8 M795.65,299.6 V297.4 M799.10,297.8 V295.5 M802.55,294.3 V292.2 M806.00,286.5 V282.7 M809.45,275.0 V268.0 M812.90,263.1 V255.7 M823.25,272.7 V268.5 M826.70,282.2 V275.9 M837.05,288.2 V285.7 M840.50,289.4 V283.9 M843.95,289.8 V285.7 M847.40,287.3 V285.1 M854.30,266.8 V261.9 M857.75,246.5 V231.8 M861.20,233.6 V222.0 M864.65,219.0 V211.8 M868.10,218.9 V205.7 M871.55,226.3 V203.7 M875.00,229.0 V208.7 M878.45,227.7 V207.6 M881.90,233.0 V211.9 M885.35,241.1 V225.5 M888.80,252.6 V248.5 M892.25,266.3 V261.4 M895.70,274.2 V268.5 M899.15,282.0 V276.8 M902.60,288.8 V286.5 M909.50,297.5 V294.7 M912.95,299.6 V296.9 M926.75,295.7 V293.3 M930.20,272.9 V263.0 M933.65,237.4 V229.4 M937.10,215.0 V204.0 M940.55,223.4 V217.7 M944.00,255.0 V241.6 M947.45,271.5 V261.6 M950.90,272.9 V268.5 M954.35,286.4 V283.8 M957.80,294.4 V292.6" stroke="#c7d3e9" stroke-width="0.7" fill="none"/>
<path d="M770.35,296.8 V300.3 M773.80,293.3 V298.3 M777.25,290.8 V295.5 M780.70,290.7 V298.3 M784.15,291.7 V295.7 M787.60,295.4 V300.3 M791.05,298.1 V302.2 M797.95,296.9 V299.7 M801.40,294.0 V297.3 M804.85,287.9 V292.7 M808.30,277.7 V292.6 M811.75,265.4 V282.4 M815.20,260.3 V276.1 M818.65,262.7 V288.0 M822.10,267.4 V286.2 M825.55,278.5 V288.0 M829.00,282.4 V291.4 M832.45,282.9 V291.6 M835.90,285.9 V296.4 M839.35,287.5 V297.5 M842.80,288.1 V294.9 M846.25,286.8 V296.4 M849.70,282.5 V291.0 M853.15,271.3 V288.8 M856.60,249.0 V265.2 M860.05,238.5 V259.5 M863.50,221.0 V247.8 M866.95,215.7 V258.3 M870.40,223.1 V249.9 M873.85,227.8 V268.9 M877.30,225.8 V251.7 M880.75,229.5 V265.5 M884.20,236.7 V259.1 M887.65,247.1 V268.4 M891.10,260.3 V273.1 M894.55,270.9 V286.8 M898.00,278.0 V293.8 M901.45,285.2 V296.2 M904.90,291.1 V299.1 M908.35,295.0 V298.6 M911.80,297.5 V301.9 M925.60,297.5 V301.7 M929.05,281.5 V288.5 M932.50,248.1 V267.3 M935.95,218.1 V265.0 M939.40,215.5 V243.7 M942.85,242.1 V263.1 M946.30,271.3 V287.1 M949.75,266.4 V279.1 M953.20,280.7 V290.8 M956.65,290.7 V296.3 M960.10,296.4 V299.9" stroke="#ffffff" stroke-width="0.55" fill="none" opacity="0.75"/>
<path d="M687.3,304.7 L720.0,304.6 L748.0,304.4 L755.0,303.8 L760.4,302.6 L765.0,300.6 L770.0,297.6 L774.0,293.6 L778.0,290.8 L781.0,291.2 L783.6,291.6 L787.0,295.4 L790.5,298.5 L793.0,299.0 L796.0,298.5 L799.5,296.6 L802.8,293.0 L805.5,287.0 L808.0,279.3 L810.8,269.0 L813.5,260.1 L816.0,261.2 L818.2,262.8 L820.5,265.0 L822.3,268.3 L825.0,277.9 L827.8,283.3 L830.0,282.6 L831.9,282.8 L834.5,285.5 L837.3,287.4 L840.5,288.4 L844.2,288.8 L847.0,286.8 L849.6,283.3 L851.8,277.0 L853.7,269.7 L855.5,258.0 L857.0,246.4 L859.2,243.7 L860.6,236.0 L861.9,228.7 L863.6,221.0 L865.5,215.5 L867.4,216.4 L868.8,219.5 L870.1,223.2 L872.0,226.0 L874.2,228.7 L876.0,227.2 L877.8,225.9 L879.6,228.2 L881.6,231.4 L883.5,235.5 L885.2,239.6 L887.2,246.0 L889.3,253.3 L891.4,262.0 L893.4,269.7 L896.1,273.8 L898.0,278.5 L900.2,283.3 L903.0,288.6 L905.7,292.9 L909.0,296.2 L912.5,298.4 L916.0,299.8 L919.3,300.6 L922.0,300.8 L924.8,300.3 L927.0,294.0 L928.9,283.3 L930.3,271.0 L931.6,258.7 L933.0,243.0 L934.4,228.7 L936.2,217.0 L937.9,211.4 L939.3,215.5 L940.7,223.2 L942.0,234.0 L943.1,245.1 L944.2,256.0 L945.3,266.9 L946.7,273.8 L947.8,269.0 L948.9,265.0 L950.0,267.5 L951.0,272.4 L953.0,280.5 L954.9,287.4 L957.0,292.0 L959.0,295.6 L961.3,298.4 L963.6,300.3" fill="none" stroke="#dc4448" stroke-width="1.35" stroke-linejoin="round"/>
<rect x="778.6" y="331.2" width="3.4" height="1" fill="#b9c8e6"/>
<rect x="782.8" y="330.4" width="35" height="2.4" fill="#8c8f98" opacity="0.42"/>
<rect x="829.6" y="331.3" width="4.6" height="0.9" fill="#e03a3c"/>
<rect x="835.2" y="330.4" width="39" height="2.4" fill="#8c8f98" opacity="0.42"/>
<g fill="#f6c71e">
<path d="M71,42.2 C72.6,44.6 72.6,46.4 71,47.6 C69.4,46.4 69.4,44.6 71,42.2Z"/>
<circle cx="71" cy="51.6" r="3.1"/>
<path d="M66.6,53.6 Q71,59 75.4,53.6 Q71,56.6 66.6,53.6Z"/>
<rect x="62.4" y="58" width="4" height="19"/>
<rect x="76" y="58" width="3.9" height="19"/>
<path d="M67.4,58 H74.8 L71.1,60.8Z"/>
<rect x="67.4" y="61.4" width="7.4" height="1.3"/>
<circle cx="71.1" cy="67" r="3.2"/>
<rect x="67.4" y="71.2" width="7.4" height="1.3"/>
<path d="M67.4,73.2 H74.8 L71.1,76.4Z"/>
</g>
<circle cx="71.1" cy="67" r="1.9" fill="none" stroke="#0f49a6" stroke-width="0.6"/>
<g>
<path d="M130.2,190.6 C127.6,189.8 125.2,192.4 123.6,196.2 C122,200 121.2,203.4 122.2,204.6 C123.4,205.6 128.4,204.6 130.2,203.4 Z" fill="#fff"/>
<path d="M135.8,190.6 C138.4,189.8 140.8,192.4 142.4,196.2 C144,200 144.8,203.4 143.8,204.6 C142.6,205.6 137.6,204.6 135.8,203.4 Z" fill="#fff"/>
<rect x="132.4" y="186.8" width="1.3" height="6" fill="#fff"/>
<circle cx="133" cy="198" r="5.6" fill="#1e447e"/>
<circle cx="133" cy="198" r="3.6" fill="#fff"/>
<g stroke="#fff" stroke-width="1.5">
<line x1="133" y1="193.2" x2="133" y2="202.8"/><line x1="128.2" y1="198" x2="137.8" y2="198"/>
<line x1="129.6" y1="194.6" x2="136.4" y2="201.4"/><line x1="129.6" y1="201.4" x2="136.4" y2="194.6"/>
</g>
<circle cx="132.2" cy="197.4" r="0.5" fill="#e8b0b0"/><circle cx="134.2" cy="199" r="0.5" fill="#e8b0b0"/>
</g>
<g fill="none" stroke="#cfdcf0" stroke-width="1.05">
<circle cx="228" cy="196.6" r="10.5"/>
<circle cx="235.10" cy="189.30" r="3.50" fill="#1e447e"/>
<line x1="233.50" y1="189.30" x2="236.70" y2="189.30" stroke-width="1.20"/>
<circle cx="227.20" cy="193.40" r="2.50" stroke-width="0.90"/>
<line x1="224.70" y1="192.60" x2="229.70" y2="192.60" stroke-width="0.70"/>
<path d="M226.10,195.40 V198.60 M228.30,195.40 V198.60" stroke-width="0.80"/>
<rect x="222.50" y="198.60" width="9.40" height="4.20" rx="1.30" stroke-width="0.95"/>
</g>
<g fill="none" stroke="#cfdcf0" stroke-width="1.07">
<circle cx="240.7" cy="459.2" r="10.7"/>
<circle cx="247.94" cy="451.76" r="3.57" fill="#1e447e"/>
<line x1="246.30" y1="451.76" x2="249.57" y2="451.76" stroke-width="1.22"/>
<circle cx="239.88" cy="455.94" r="2.55" stroke-width="0.92"/>
<line x1="237.34" y1="455.12" x2="242.43" y2="455.12" stroke-width="0.71"/>
<path d="M238.76,457.98 V461.24 M241.01,457.98 V461.24" stroke-width="0.82"/>
<rect x="235.10" y="461.24" width="9.58" height="4.28" rx="1.32" stroke-width="0.97"/>
</g>
<polygon points="77.29,255.80 74.60,256.10 70.40,260.30 59.00,260.00 59.90,261.50 66.50,264.20 63.50,268.70 59.00,269.00 59.60,270.49 62.90,271.39 64.10,272.89 66.20,275.59 66.80,273.79 67.10,271.39 69.50,268.10 74.30,273.79 76.09,273.49 74.90,263.00 77.59,257.90" fill="#fff" stroke="#fff" stroke-width="0.6" stroke-linejoin="round"/>
<polygon points="153.73,272.73 153.97,268.53 156.30,265.27 158.40,264.71 164.00,265.36 169.37,263.40 170.53,265.73 172.40,268.07 174.97,272.73" fill="#fff"/>
<polygon points="154.90,261.53 155.04,259.43 156.30,258.50 155.83,257.10 157.00,255.47 158.63,254.53 159.33,255.00 160.03,254.30 157.93,251.73 158.63,251.27 161.20,254.53 161.90,253.60 161.67,252.20 162.37,251.27 163.53,251.27 164.00,252.43 163.77,253.83 165.17,255.00 165.63,256.63 164.93,257.57 166.33,260.13 168.67,261.77 169.60,262.93 170.53,265.73 168.67,265.97 167.97,264.80 166.33,265.97 164.47,265.27 163.53,264.10 161.20,263.63 160.50,264.33 160.03,265.73 158.40,265.03 159.10,263.40 158.17,261.53 157.00,260.60 156.30,260.83 155.83,262.00" fill="#fff" stroke="#fff" stroke-width="0.3"/>
<polygon points="160.83,264.24 163.53,264.43 164.47,266.11 162.23,266.29" fill="#27487e"/>
<g><rect x="62.30" y="381.20" width="12.30" height="22.20" fill="none" stroke="#cfdcf0" stroke-width="0.8"/><rect x="56.20" y="387.40" width="6.10" height="16.00" fill="none" stroke="#cfdcf0" stroke-width="0.8"/><rect x="74.60" y="387.40" width="6.20" height="16.00" fill="none" stroke="#cfdcf0" stroke-width="0.8"/><rect x="57.80" y="389.40" width="2.80" height="2.60" fill="none" stroke="#cfdcf0" stroke-width="0.6"/><rect x="76.20" y="389.40" width="2.80" height="2.60" fill="none" stroke="#cfdcf0" stroke-width="0.6"/><rect x="58.7" y="390.2" width="1" height="1" fill="#14264c"/><rect x="77.1" y="390.2" width="1" height="1" fill="#14264c"/><rect x="57.80" y="394.40" width="2.80" height="2.60" fill="none" stroke="#cfdcf0" stroke-width="0.6"/><rect x="76.20" y="394.40" width="2.80" height="2.60" fill="none" stroke="#cfdcf0" stroke-width="0.6"/><rect x="58.7" y="395.2" width="1" height="1" fill="#14264c"/><rect x="77.1" y="395.2" width="1" height="1" fill="#14264c"/><rect x="57.80" y="399.20" width="2.80" height="2.60" fill="none" stroke="#cfdcf0" stroke-width="0.6"/><rect x="76.20" y="399.20" width="2.80" height="2.60" fill="none" stroke="#cfdcf0" stroke-width="0.6"/><rect x="58.7" y="400.0" width="1" height="1" fill="#14264c"/><rect x="77.1" y="400.0" width="1" height="1" fill="#14264c"/><rect x="64.20" y="388.60" width="3.00" height="3.00" fill="none" stroke="#cfdcf0" stroke-width="0.6"/><rect x="69.40" y="388.60" width="3.00" height="3.00" fill="none" stroke="#cfdcf0" stroke-width="0.6"/><rect x="64.20" y="393.60" width="3.00" height="3.00" fill="none" stroke="#cfdcf0" stroke-width="0.6"/><rect x="69.40" y="393.60" width="3.00" height="3.00" fill="none" stroke="#cfdcf0" stroke-width="0.6"/><path d="M66.2,403.4 V398.6 H70.6 V403.4 M68.4,398.6 V403.4" fill="none" stroke="#cfdcf0" stroke-width="0.7"/><path d="M67.2,383.4 V386.4 M69.6,383.4 V386.4 M67.2,384.9 H69.6" fill="none" stroke="#cfdcf0" stroke-width="0.7"/></g>
<g fill="none" stroke="#cfdcf0" stroke-width="0.9" stroke-linecap="round">
<ellipse cx="165.5" cy="395.3" rx="9.6" ry="9.3"/>
<path d="M156.2,392.6 C153.2,392.4 152.8,397.2 156.4,397.6"/>
<path d="M174.8,392.6 C177.8,392.4 178.2,397.2 174.6,397.6"/>
<path d="M165.2,386 C163.4,385 163,382.4 165,381.4 C167,380.6 168.6,382.6 167.4,384 C166.8,384.6 165.8,384.2 165.9,383.4"/>
<path d="M162.6,400.2 Q165.4,401.6 168.2,400.2"/>
</g><circle cx="162.7" cy="396.3" r="0.95" fill="#cfdcf0"/><circle cx="168.4" cy="396.3" r="0.95" fill="#cfdcf0"/>
<circle cx="260.6" cy="382.4" r="3.6" fill="#fff"/><circle cx="263.9" cy="379.2" r="1.7" fill="#fff"/>
<polygon points="259.01,387.84 263.95,388.16 263.95,404.32 255.21,404.32 252.36,401.78 251.72,398.62 253.62,394.81 256.48,391.01 257.74,388.60" fill="#fff" stroke="#fff" stroke-width="0.8" stroke-linejoin="round"/>
<path d="M254,397.2 Q257.6,399 261,394.6 Q262,393 261.8,391.4" fill="none" stroke="#3a5a90" stroke-width="0.8"/>
<g fill="#fff"><polygon points="110.7,445.8 98,456.9 123.2,456.9"/><rect x="116.7" y="447.2" width="3.7" height="8"/><rect x="101.1" y="456" width="19.3" height="12"/></g>
<circle cx="110.7" cy="456.2" r="2.5" fill="#1e447e"/><path d="M105.4,464.8 a5.3,3.9 0 0 1 10.6,0Z" fill="#1e447e"/>
<g fill="none" stroke="#f4f7fc" stroke-width="1.05">
<circle cx="122" cy="584.5" r="13.5"/>
<path d="M114.6,594.4 C115.4,592.6 118.6,592.6 119.4,591.4 C117.2,591 115.8,590.4 115.6,589.6 C117.8,586.4 116.4,579.2 120.4,577.6 C122.4,576.8 124.8,577.6 125.6,579.6 C127,582.6 126.4,587.4 128.4,589.6 C128,590.6 126.4,591 124.6,591.4 C125.4,592.6 128.6,592.6 129.4,594.4"/>
<circle cx="240.2" cy="584.3" r="13.7"/>
<path d="M232.4,594.8 C232.6,592 236.6,591.6 237.8,590.2 V588.4 C236.4,587 235.8,585.2 235.8,582.8 C235.8,579.6 237.6,577.6 240.2,577.6 C242.8,577.6 244.6,579.6 244.6,582.8 C244.6,585.2 244,587 242.6,588.4 V590.2 C243.8,591.6 247.8,592 248,594.8"/>
</g>
<g stroke="#1b2f44" stroke-linecap="butt" fill="none">
<line x1="683.6" y1="360.4" x2="696.4" y2="348.2" stroke-width="2.6"/>
<line x1="696.4" y1="348.2" x2="701.8" y2="343" stroke-width="0.8"/>
<line x1="681.2" y1="358.6" x2="685.4" y2="363" stroke-width="1.2"/>
<line x1="683" y1="361.4" x2="681.2" y2="363.2" stroke-width="1"/>
<line x1="685.8" y1="359.6" x2="687.4" y2="361.2" stroke-width="0.8"/>
</g><circle cx="703.2" cy="344.3" r="0.9" fill="#1b2f44"/>
<path d="M495.5,574.5 H478.5 V600 M478.5,595 H495.5" fill="none" stroke="#c9b16c" stroke-width="0.9"/>
<g fill="#f8c117"><path d="M506.4,582.4 C502.6,581.6 500,578 500.4,574.2 C500.8,571 503.2,569.4 506,569.6 C509,568.8 512.4,570.6 512.8,574 C513.2,578.6 510,582.2 506.4,582.4Z"/>
<rect x="502.6" y="566" width="1.5" height="4.6" rx="0.6"/><rect x="505.2" y="565.4" width="1.6" height="5" rx="0.6"/><rect x="507.8" y="565.8" width="1.5" height="4.6" rx="0.6"/><rect x="510" y="567" width="1.3" height="4" rx="0.6"/></g>
<path d="M504.6,573.6 L509.6,577.2 L511.6,573.8 M507.2,575.6 L507.8,579" fill="none" stroke="#1e447e" stroke-width="0.7"/>
<path d="M503.2,600 C501.8,596 500.6,592.4 501.6,590.6 C503,589 506.4,589.6 508.6,591.4 C511,593.6 513,597 516,598.6" fill="none" stroke="#b9c3d2" stroke-width="0.7"/><path d="M503.6,592 l2.2,0.2 l-1,1.6z" fill="#b9c3d2"/>
<circle cx="408" cy="623" r="38.75" fill="none" stroke="#f1f2f6" stroke-width="14.5"/>
<path d="M408.00,584.25 A38.75,38.75 0 1 1 369.25,623.00" fill="none" stroke="#fbbf0c" stroke-width="14.5"/>
</svg>
</body></html>
